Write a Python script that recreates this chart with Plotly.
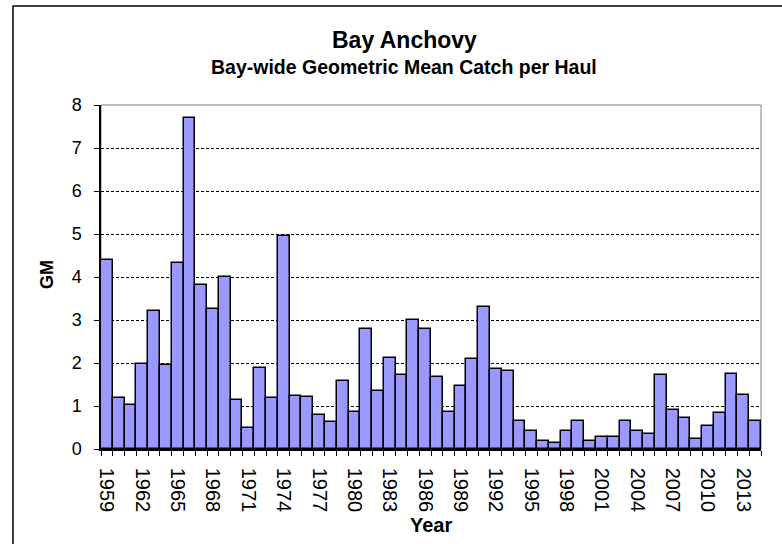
import plotly.graph_objects as go

years = list(range(1959, 2015))
gm = [4.39, 1.18, 1.02, 1.98, 3.22, 1.95, 4.33, 7.69, 3.82, 3.26,
      4.01, 1.14, 0.48, 1.89, 1.18, 4.96, 1.23, 1.21, 0.80, 0.62,
      1.57, 0.87, 2.78, 1.35, 2.12, 1.73, 3.01, 2.78, 1.67, 0.87,
      1.47, 2.10, 3.30, 1.87, 1.82, 0.66, 0.43, 0.19, 0.14, 0.43,
      0.66, 0.19, 0.29, 0.27, 0.64, 0.43, 0.34, 1.73, 0.91, 0.73,
      0.23, 0.53, 0.84, 1.75, 1.26, 0.66]
tick_years = list(range(1959, 2015, 3))
y_ticks = list(range(0, 9))

FONT = "Liberation Sans, Arial, sans-serif"

fig = go.Figure()
fig.add_trace(go.Bar(
    x=years, y=gm, width=1,
    marker=dict(color="#9999FF", line=dict(color="black", width=1.5)),
    hoverinfo="x+y",
))

L, R, T, B = 101, 21, 105, 95
W, H = 782, 544
pw = W - L - R
ph = H - T - B

def px_x(p):
    return (p - L) / pw

def px_y(p):
    return (H - B - p) / ph

fig.update_layout(
    width=W, height=H,
    margin=dict(l=L, r=R, t=T, b=B, pad=0),
    paper_bgcolor="white", plot_bgcolor="white",
    showlegend=False, bargap=0,
    font=dict(family=FONT, color="black"),
    xaxis=dict(
        range=[1958.5, 2014.5],
        tickmode="array", tickvals=tick_years,
        ticktext=[str(y) for y in tick_years],
        tickangle=90, ticks="",
        tickfont=dict(size=20, family=FONT),
        showline=True, linecolor="black", linewidth=1.5,
        showgrid=False, zeroline=False,
        minor=dict(tick0=1958.5, dtick=1, ticks="outside", ticklen=5,
                   tickcolor="black", tickwidth=1, showgrid=False),
        ticklabelstandoff=13,
    ),
    yaxis=dict(
        range=[0, 8], tickmode="array", tickvals=y_ticks,
        ticks="outside", ticklen=5, tickcolor="black", tickwidth=1,
        tickfont=dict(size=18, family=FONT),
        showline=True, linecolor="black", linewidth=1.5,
        showgrid=True, gridcolor="black", gridwidth=1, griddash="3px,2px",
        zeroline=False,
        ticklabelstandoff=9,
    ),
    shapes=[
        dict(type="rect", xref="paper", yref="paper",
             x0=0, x1=1, y0=0, y1=1,
             line=dict(color="#808080", width=1), layer="below"),
        dict(type="rect", xref="paper", yref="paper",
             x0=px_x(13), x1=px_x(800), y0=px_y(560), y1=px_y(6),
             line=dict(color="black", width=1.5), layer="above"),
    ],
    annotations=[
        dict(text="<b>Bay Anchovy</b>", xref="paper", yref="paper",
             x=px_x(404), y=px_y(40), xanchor="center", yanchor="middle",
             showarrow=False, font=dict(size=23, family=FONT)),
        dict(text="<b>Bay-wide Geometric Mean Catch per Haul</b>",
             xref="paper", yref="paper",
             x=px_x(404), y=px_y(67), xanchor="center", yanchor="middle",
             showarrow=False, font=dict(size=19.5, family=FONT)),
        dict(text="<b>Year</b>", xref="paper", yref="paper",
             x=0.5, y=px_y(525), xanchor="center", yanchor="middle",
             showarrow=False, font=dict(size=20, family=FONT)),
        dict(text="<b>GM</b>", xref="paper", yref="paper",
             x=px_x(47), y=px_y(275), xanchor="center", yanchor="middle",
             textangle=-90, showarrow=False, font=dict(size=18, family=FONT)),
    ],
)

fig.write_html("out.html",
               config={"displayModeBar": False},
               post_script="document.body.style.margin='0px';document.body.style.overflow='hidden';")
